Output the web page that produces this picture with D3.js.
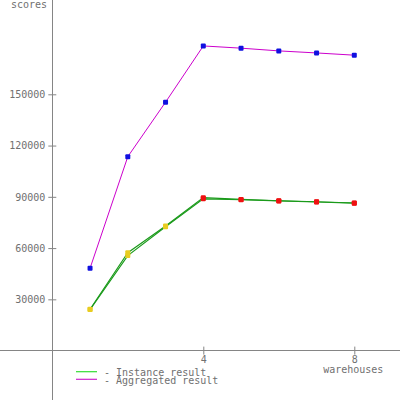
<!DOCTYPE html>
<html>
<head>
<meta charset="utf-8">
<script src="https://cdn.jsdelivr.net/npm/d3@7"></script>
<style>
html,body{margin:0;padding:0;background:#fff;}
svg{display:block;}
text{font-family:"DejaVu Sans Mono",monospace;font-size:10px;fill:#707070;}
</style>
</head>
<body>
<svg id="chart" width="400" height="400"></svg>
<script>
const warehouses = [1, 2, 3, 4, 5, 6, 7, 8];
const instance1 = [24200, 57300, 72900, 89500, 88500, 87700, 87100, 86400];
const instance2 = [24000, 55600, 72500, 88800, 88300, 87600, 87000, 86300];
const aggregated = [48200, 113500, 145400, 178300, 177000, 175400, 174200, 172900];
const yTicks = [30000, 60000, 90000, 120000, 150000];
const xTicks = [4, 8];
const peakWarehouse = 4;
const legendLabels = ["- Instance result", "- Aggregated result"];

const svg = d3.select("#chart");
const x = d3.scaleLinear().domain([0, 8]).range([52.3, 354.3]);
const y = d3.scaleLinear().domain([0, 150000]).range([350.6, 94.3]);
const axisColor = "#858585";

// axes lines
svg.append("line").attr("x1", x(0)).attr("x2", x(0)).attr("y1", 0).attr("y2", 400)
  .attr("stroke", axisColor).attr("stroke-width", 1).attr("shape-rendering", "crispEdges");
svg.append("line").attr("x1", 0).attr("x2", 400).attr("y1", y(0)).attr("y2", y(0))
  .attr("stroke", axisColor).attr("stroke-width", 1).attr("shape-rendering", "crispEdges");

// y axis via d3 axis (ticks crossing both sides)
const yAxis = svg.append("g").attr("transform", `translate(${x(0) + 4},0)`)
  .call(d3.axisLeft(y).tickValues(yTicks).tickSize(8).tickPadding(3).tickFormat(d3.format("d")));
yAxis.select(".domain").remove();
yAxis.selectAll(".tick line").attr("stroke", axisColor);
yAxis.selectAll(".tick text").attr("font-family", "DejaVu Sans Mono").attr("font-size", 10).attr("fill", "#707070");

// x axis
const xAxis = svg.append("g").attr("transform", `translate(0,${y(0) - 4})`)
  .call(d3.axisBottom(x).tickValues(xTicks).tickSize(8).tickPadding(1).tickFormat(d3.format("d")));
xAxis.select(".domain").remove();
xAxis.selectAll(".tick line").attr("stroke", axisColor);
xAxis.selectAll(".tick text").attr("font-family", "DejaVu Sans Mono").attr("font-size", 10).attr("fill", "#707070");

svg.append("text").attr("x", 47).attr("y", 7.5).attr("text-anchor", "end").text("scores");
svg.append("text").attr("x", x(8) - 1).attr("y", 372.5).attr("text-anchor", "middle").text("warehouses");

const line = d3.line().x((d, i) => x(warehouses[i])).y(d => y(d));

svg.append("path").datum(aggregated).attr("d", line).attr("fill", "none")
  .attr("stroke", "#cc00cc").attr("stroke-width", 1);
[instance1, instance2].forEach(s => {
  svg.append("path").datum(s).attr("d", line).attr("fill", "none")
    .attr("stroke", "#1a9a1a").attr("stroke-width", 1.1);
});

// markers
function markers(series, colorFn) {
  svg.append("g").selectAll("rect").data(series).join("rect")
    .attr("x", (d, i) => x(warehouses[i]) - 2.5)
    .attr("y", d => y(d) - 2.5)
    .attr("width", 5).attr("height", 5).attr("rx", 1)
    .attr("fill", (d, i) => colorFn(warehouses[i]));
}
const instColor = w => w < peakWarehouse ? "#e8cc20" : "#ee1111";
markers(instance2, instColor);
markers(instance1, instColor);
markers(aggregated, () => "#1010e0");

// legend
const legend = [
  { label: legendLabels[0], color: "#33dd33", ly: 371.7, ty: 376 },
  { label: legendLabels[1], color: "#cc22cc", ly: 379.3, ty: 383.8 }
];
legend.forEach(l => {
  svg.append("line").attr("x1", 76).attr("x2", 97).attr("y1", l.ly).attr("y2", l.ly)
    .attr("stroke", l.color).attr("stroke-width", 1.2);
  svg.append("text").attr("x", 104).attr("y", l.ty).text(l.label);
});
</script>
</body>
</html>
